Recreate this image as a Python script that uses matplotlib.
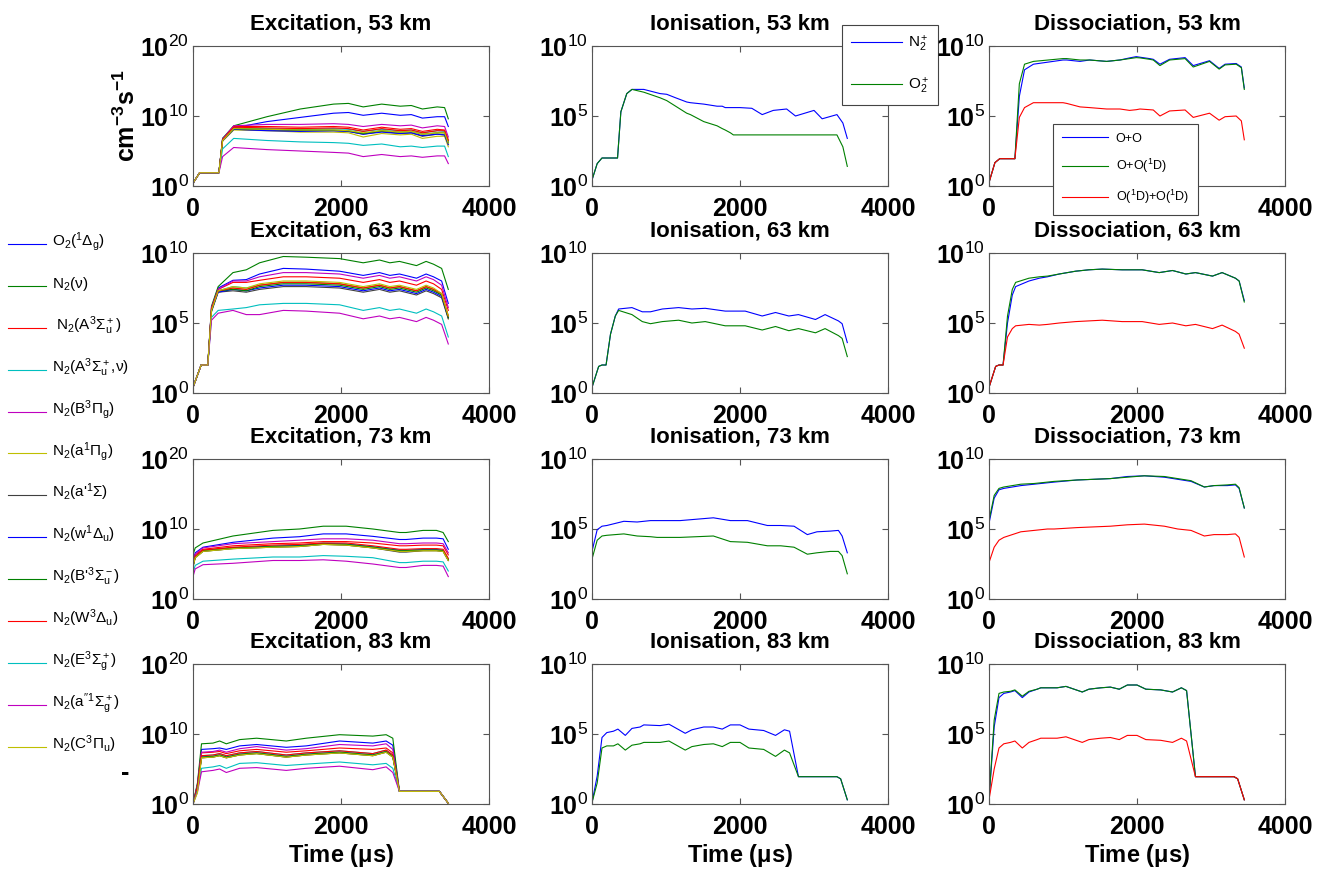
import numpy as np
import matplotlib
matplotlib.use('Agg')
import matplotlib.pyplot as plt
from matplotlib.lines import Line2D
from matplotlib.ticker import NullLocator

plt.rcParams['font.family'] = ['Liberation Sans', 'DejaVu Sans']
plt.rcParams['mathtext.fontset'] = 'custom'
plt.rcParams['mathtext.rm'] = 'Liberation Sans'
plt.rcParams['mathtext.it'] = 'Liberation Sans'
plt.rcParams['mathtext.bf'] = 'Liberation Sans:bold'

# ---- data (log10 of rate, cm^-3 s^-1) ----
species = [r'O$_2$($^1\Delta_g$)', r'N$_2$($\nu$)', r' N$_2$(A$^3\Sigma_u^+$)',
           r'N$_2$(A$^3\Sigma_u^+$,$\nu$)', r'N$_2$(B$^3\Pi_g$)', r'N$_2$(a$^1\Pi_g$)',
           r"N$_2$(a$'^1\Sigma$)", r'N$_2$(w$^1\Delta_u$)', r"N$_2$(B$'^3\Sigma_u^-$)",
           r'N$_2$(W$^3\Delta_u$)', r'N$_2$(E$^3\Sigma_g^+$)', r"N$_2$(a$''^1\Sigma_g^+$)",
           r'N$_2$(C$^3\Pi_u$)']
colors = [(0, 0, 1), (0, 0.5, 0), (1, 0, 0), (0, 0.75, 0.75), (0.75, 0, 0.75),
          (0.75, 0.75, 0), (0.25, 0.25, 0.25), (0, 0, 1), (0, 0.5, 0), (1, 0, 0),
          (0, 0.75, 0.75), (0.75, 0, 0.75), (0.75, 0.75, 0)]
altitudes = [53, 63, 73, 83]

t_exc53 = [0, 90, 350, 400, 550, 1000, 1450, 1900, 2100, 2300, 2550, 2800, 2950, 3100, 3300, 3400, 3450]
exc53 = [
    [0.4, 1.9, 1.9, 6.8, 8.3, 9.2, 9.8, 10.4, 10.5, 10.1, 10.4, 10.1, 10.2, 9.7, 9.9, 9.9, 8.5],
    [0.4, 1.9, 1.9, 6.8, 8.6, 9.9, 11.0, 11.7, 11.8, 11.3, 11.7, 11.4, 11.5, 11.0, 11.3, 11.2, 9.6],
    [0.4, 1.9, 1.9, 6.6, 8.5, 8.5, 8.4, 8.5, 8.4, 8.0, 8.4, 8.1, 8.2, 7.8, 8.1, 8.0, 6.6],
    [0.4, 1.9, 1.9, 6.5, 8.3, 8.2, 8.1, 8.2, 8.1, 7.8, 8.1, 7.9, 8.0, 7.6, 7.9, 7.8, 6.4],
    [0.4, 1.9, 1.9, 6.7, 8.6, 8.8, 8.8, 8.9, 8.8, 8.5, 8.8, 8.6, 8.7, 8.3, 8.6, 8.5, 7.0],
    [0.4, 1.9, 1.9, 6.4, 8.0, 7.9, 7.7, 7.7, 7.6, 7.0, 7.5, 7.3, 7.4, 6.8, 7.1, 7.1, 5.6],
    [0.4, 1.9, 1.9, 6.5, 8.1, 8.0, 7.9, 7.9, 7.8, 7.4, 7.8, 7.5, 7.6, 7.1, 7.4, 7.3, 6.0],
    [0.4, 1.9, 1.9, 6.5, 8.1, 7.9, 7.8, 7.9, 7.8, 7.4, 7.7, 7.5, 7.6, 7.2, 7.4, 7.3, 5.9],
    [0.4, 1.9, 1.9, 6.6, 8.2, 8.1, 8.0, 8.0, 7.9, 7.5, 7.9, 7.7, 7.8, 7.4, 7.6, 7.6, 6.2],
    [0.4, 1.9, 1.9, 6.6, 8.4, 8.3, 8.2, 8.3, 8.2, 7.8, 8.2, 7.9, 8.0, 7.6, 7.9, 7.9, 6.5],
    [0.4, 1.9, 1.9, 5.3, 6.8, 6.5, 6.3, 6.2, 6.1, 5.8, 6.0, 5.6, 5.7, 5.5, 5.7, 5.7, 4.2],
    [0.4, 1.9, 1.9, 4.2, 5.5, 5.2, 5.0, 4.8, 4.7, 4.2, 4.5, 4.2, 4.3, 4.1, 4.3, 4.3, 3.2],
    [0.4, 1.9, 1.9, 6.5, 8.2, 8.1, 8.0, 8.0, 7.9, 7.6, 7.9, 7.7, 7.8, 7.4, 7.6, 7.6, 6.1],
]

t_exc63 = [0, 110, 200, 250, 340, 540, 720, 900, 1220, 1530, 1980, 2300, 2520, 2660, 2790, 3020, 3150, 3250, 3360, 3450]
exc63 = [
    [0.4, 2.0, 2.0, 6.1, 7.5, 8.05, 8.1, 8.5, 8.9, 8.85, 8.7, 8.4, 8.6, 8.4, 8.5, 8.2, 8.5, 8.3, 8.0, 6.4],
    [0.4, 2.0, 2.0, 6.2, 7.6, 8.6, 8.8, 9.3, 9.75, 9.7, 9.6, 9.3, 9.5, 9.3, 9.4, 9.1, 9.4, 9.2, 8.9, 7.4],
    [0.4, 2.0, 2.0, 6.0, 7.4, 7.9, 7.9, 8.05, 8.3, 8.3, 8.2, 7.9, 8.1, 7.9, 8.0, 7.7, 8.0, 7.8, 7.4, 5.9],
    [0.4, 2.0, 2.0, 5.9, 7.3, 7.6, 7.5, 7.7, 7.9, 7.9, 7.8, 7.5, 7.7, 7.5, 7.6, 7.3, 7.6, 7.4, 7.1, 5.5],
    [0.4, 2.0, 2.0, 6.1, 7.4, 8.0, 8.0, 8.3, 8.6, 8.6, 8.5, 8.2, 8.4, 8.2, 8.3, 8.0, 8.3, 8.1, 7.7, 6.1],
    [0.4, 2.0, 2.0, 5.9, 7.3, 7.5, 7.4, 7.7, 7.9, 7.9, 7.8, 7.5, 7.7, 7.5, 7.6, 7.3, 7.6, 7.4, 7.0, 5.3],
    [0.4, 2.0, 2.0, 5.8, 7.2, 7.3, 7.2, 7.4, 7.6, 7.6, 7.5, 7.2, 7.4, 7.2, 7.3, 7.0, 7.3, 7.1, 6.8, 5.3],
    [0.4, 2.0, 2.0, 5.9, 7.2, 7.4, 7.3, 7.5, 7.7, 7.7, 7.6, 7.3, 7.5, 7.3, 7.4, 7.1, 7.4, 7.2, 6.9, 5.4],
    [0.4, 2.0, 2.0, 5.9, 7.3, 7.4, 7.3, 7.6, 7.8, 7.8, 7.7, 7.4, 7.6, 7.4, 7.5, 7.2, 7.5, 7.3, 7.0, 5.4],
    [0.4, 2.0, 2.0, 6.0, 7.3, 7.5, 7.4, 7.7, 7.9, 7.9, 7.8, 7.5, 7.7, 7.5, 7.6, 7.3, 7.6, 7.4, 7.1, 5.5],
    [0.4, 2.0, 2.0, 5.4, 5.9, 6.0, 6.1, 6.3, 6.4, 6.4, 6.3, 5.9, 6.1, 5.9, 6.0, 5.7, 6.0, 5.8, 5.5, 4.0],
    [0.4, 2.0, 2.0, 5.2, 5.7, 5.9, 5.6, 5.6, 5.9, 5.85, 5.7, 5.3, 5.5, 5.3, 5.4, 5.1, 5.4, 5.2, 4.9, 3.5],
    [0.4, 2.0, 2.0, 5.9, 7.3, 7.6, 7.5, 7.8, 8.0, 8.0, 7.9, 7.6, 7.8, 7.6, 7.7, 7.4, 7.7, 7.5, 7.1, 5.5],
]

t_exc73 = [0, 30, 135, 540, 1080, 1440, 1760, 2070, 2430, 2790, 2880, 3110, 3290, 3380, 3450]
exc73 = [
    [5.4, 6.6, 7.4, 8.1, 8.7, 8.9, 9.3, 9.3, 8.95, 8.5, 8.5, 8.7, 8.7, 8.6, 7.1],
    [6.3, 7.3, 8.0, 9.0, 9.8, 10.0, 10.4, 10.4, 10.0, 9.5, 9.5, 9.8, 9.8, 9.5, 8.2],
    [5.0, 6.3, 7.1, 7.6, 7.9, 8.0, 8.2, 8.2, 8.0, 7.6, 7.6, 7.7, 7.7, 7.6, 6.3],
    [4.8, 6.1, 6.9, 7.3, 7.6, 7.7, 8.0, 7.9, 7.5, 7.0, 7.0, 7.1, 7.1, 7.0, 5.7],
    [5.1, 6.4, 7.3, 7.9, 8.2, 8.4, 8.6, 8.6, 8.4, 7.9, 7.9, 8.0, 8.0, 7.9, 6.6],
    [4.6, 5.9, 6.8, 7.2, 7.4, 7.5, 7.8, 7.7, 7.3, 6.8, 6.8, 6.9, 6.9, 6.8, 5.5],
    [4.6, 5.9, 6.8, 7.2, 7.4, 7.5, 7.8, 7.7, 7.3, 6.7, 6.7, 6.9, 6.9, 6.8, 5.5],
    [4.7, 6.0, 6.9, 7.3, 7.5, 7.6, 7.9, 7.8, 7.4, 6.9, 6.9, 7.0, 7.0, 6.9, 5.6],
    [4.7, 6.0, 6.9, 7.3, 7.5, 7.6, 7.9, 7.8, 7.4, 6.9, 6.9, 7.0, 7.0, 6.9, 5.6],
    [4.8, 6.1, 7.0, 7.4, 7.7, 7.8, 8.0, 8.0, 7.6, 7.1, 7.1, 7.2, 7.2, 7.1, 5.8],
    [3.7, 4.8, 5.4, 5.7, 6.0, 6.0, 6.2, 6.1, 5.9, 5.2, 5.2, 5.4, 5.4, 5.3, 4.0],
    [3.2, 4.3, 4.9, 5.1, 5.5, 5.5, 5.6, 5.4, 5.0, 4.5, 4.5, 4.8, 4.8, 4.7, 3.2],
    [4.6, 5.9, 6.8, 7.2, 7.4, 7.5, 7.8, 7.7, 7.3, 6.8, 6.8, 6.9, 6.9, 6.8, 5.5],
]

t_exc83 = [0, 60, 115, 270, 360, 450, 630, 860, 1260, 1530, 1980, 2430, 2610, 2700, 2790, 3330, 3450]
exc83 = [
    [0.0, 2.8, 7.8, 7.9, 8.0, 7.8, 8.3, 8.5, 8.1, 8.3, 9.0, 8.7, 9.0, 8.4, 1.8, 1.8, 0.1],
    [0.0, 3.0, 8.6, 8.7, 9.0, 8.6, 9.2, 9.4, 9.0, 9.4, 9.9, 9.7, 9.9, 9.4, 1.8, 1.8, 0.1],
    [0.0, 2.6, 7.3, 7.4, 7.5, 7.2, 7.6, 7.8, 7.4, 7.6, 8.0, 7.8, 8.0, 7.3, 1.8, 1.8, 0.1],
    [0.0, 2.5, 6.9, 7.0, 7.2, 6.9, 7.3, 7.5, 7.0, 7.3, 7.6, 7.2, 7.7, 7.0, 1.8, 1.8, 0.1],
    [0.0, 2.7, 7.4, 7.5, 7.7, 7.4, 7.9, 8.2, 7.7, 7.9, 8.5, 8.3, 8.6, 7.8, 1.8, 1.8, 0.1],
    [0.0, 2.4, 6.6, 6.7, 6.9, 6.6, 7.0, 7.2, 6.7, 7.0, 7.3, 6.9, 7.4, 6.7, 1.8, 1.8, 0.1],
    [0.0, 2.4, 6.6, 6.7, 6.9, 6.6, 7.0, 7.2, 6.7, 7.0, 7.3, 6.9, 7.4, 6.7, 1.8, 1.8, 0.1],
    [0.0, 2.4, 6.7, 6.8, 7.0, 6.7, 7.1, 7.3, 6.8, 7.1, 7.4, 7.0, 7.5, 6.8, 1.8, 1.8, 0.1],
    [0.0, 2.4, 6.7, 6.8, 7.0, 6.7, 7.1, 7.3, 6.8, 7.1, 7.4, 7.0, 7.5, 6.8, 1.8, 1.8, 0.1],
    [0.0, 2.5, 6.9, 7.0, 7.2, 6.9, 7.3, 7.5, 7.0, 7.3, 7.6, 7.2, 7.7, 7.0, 1.8, 1.8, 0.1],
    [0.0, 1.9, 5.1, 5.3, 5.5, 5.1, 5.8, 5.9, 5.5, 5.7, 6.0, 5.6, 5.8, 5.1, 1.8, 1.8, 0.1],
    [0.0, 1.7, 4.6, 4.8, 5.0, 4.5, 5.1, 5.2, 4.8, 5.1, 5.4, 4.9, 5.3, 4.5, 1.8, 1.8, 0.1],
    [0.0, 1.6, 6.6, 6.7, 6.9, 6.6, 7.0, 7.2, 6.7, 7.0, 7.3, 6.9, 7.4, 6.7, 1.8, 1.8, 0.1],
]

# ionisation: N2+ (blue), O2+ (green)
ion_labels = [r'N$_2^+$', r'O$_2^+$']
t_ion53 = [0, 70, 135, 345, 390, 470, 540, 700, 920, 1010, 1130, 1280, 1330, 1510, 1690, 1760, 1800,
           1870, 1910, 2000, 2160, 2300, 2450, 2630, 2750, 3000, 3110, 3310, 3390, 3450]
ion53_n2 = [0.43, 1.6, 2.0, 2.0, 5.3, 6.6, 6.9, 6.9, 6.6, 6.55, 6.3, 6.0, 5.95, 5.85, 5.7, 5.7, 5.6,
            5.6, 5.6, 5.6, 5.55, 5.1, 5.4, 5.5, 5.0, 5.4, 4.8, 5.1, 4.5, 3.4]
ion53_o2 = [0.43, 1.6, 2.0, 2.0, 5.3, 6.6, 6.9, 6.7, 6.3, 6.1, 5.7, 5.2, 5.1, 4.6, 4.3, 4.1, 4.0,
            3.8, 3.65, 3.65, 3.65, 3.65, 3.65, 3.65, 3.65, 3.65, 3.65, 3.65, 2.8, 1.4]
t_ion63 = [0, 90, 135, 190, 250, 315, 360, 540, 680, 790, 950, 1170, 1350, 1530, 1800, 2070, 2300,
           2480, 2660, 2790, 3020, 3150, 3330, 3380, 3450]
ion63_n2 = [0.4, 1.9, 2.0, 2.0, 4.2, 5.5, 6.0, 6.1, 5.8, 5.8, 6.0, 6.1, 6.0, 6.05, 5.85, 5.85, 5.5,
            5.75, 5.5, 5.6, 5.25, 5.6, 5.15, 4.95, 3.6]
ion63_o2 = [0.4, 1.9, 2.0, 2.0, 4.2, 5.5, 5.9, 5.6, 5.1, 4.95, 5.1, 5.2, 5.0, 5.1, 4.8, 4.8, 4.5,
            4.75, 4.45, 4.6, 4.3, 4.6, 4.1, 3.9, 2.6]
t_ion73 = [0, 70, 135, 200, 430, 610, 790, 880, 1190, 1640, 1870, 2100, 2370, 2550, 2730, 2910,
           3040, 3220, 3330, 3380, 3450]
ion73_n2 = [3.4, 4.95, 5.2, 5.25, 5.55, 5.5, 5.6, 5.6, 5.6, 5.8, 5.6, 5.6, 5.25, 5.25, 5.2, 4.6,
            4.8, 4.85, 4.9, 4.5, 3.3]
ion73_o2 = [2.85, 4.2, 4.5, 4.55, 4.65, 4.5, 4.45, 4.4, 4.4, 4.5, 4.1, 4.05, 3.8, 3.8, 3.7, 3.2,
            3.3, 3.4, 3.4, 3.1, 1.8]
t_ion83 = [0, 70, 135, 200, 290, 350, 450, 540, 650, 700, 920, 1040, 1260, 1350, 1510, 1640, 1760,
           1870, 2000, 2120, 2320, 2480, 2600, 2670, 2790, 3310, 3360, 3450]
ion83_n2 = [0.1, 2.0, 4.75, 5.1, 5.2, 5.35, 4.9, 5.4, 5.5, 5.65, 5.6, 5.7, 5.05, 5.3, 5.5, 5.5,
            5.35, 5.65, 5.65, 5.35, 5.25, 4.9, 5.3, 5.2, 1.95, 1.95, 1.8, 0.3]
ion83_o2 = [0.1, 1.5, 4.0, 4.15, 4.15, 4.3, 3.85, 4.2, 4.3, 4.4, 4.4, 4.5, 3.85, 4.1, 4.25, 4.3,
            4.1, 4.4, 4.4, 4.0, 3.9, 3.4, 3.85, 3.65, 1.95, 1.95, 1.8, 0.3]

# dissociation: O+O (blue), O+O(1D) (green), O(1D)+O(1D) (red)
dis_labels = ['O+O', r'O+O($^1$D)', r'O($^1$D)+O($^1$D)']
t_dis53 = [0, 80, 145, 350, 410, 480, 600, 1000, 1050, 1230, 1360, 1590, 1770, 1900, 1990, 2040,
           2170, 2220, 2310, 2440, 2650, 2760, 2980, 3110, 3190, 3340, 3410, 3450]
dis53_oo = [0.25, 1.67, 1.95, 1.95, 6.4, 8.3, 8.7, 9.0, 9.0, 8.9, 9.0, 8.9, 9.0, 9.15, 9.24, 9.2,
            9.1, 9.05, 8.7, 9.05, 9.17, 8.6, 8.95, 8.4, 8.7, 8.75, 8.5, 7.0]
dis53_oo1d = [0.25, 1.67, 1.95, 1.95, 7.3, 8.7, 8.9, 9.1, 9.1, 9.0, 9.0, 8.9, 9.0, 9.1, 9.17, 9.15,
              9.05, 9.0, 8.6, 9.0, 9.1, 8.5, 8.9, 8.35, 8.65, 8.7, 8.45, 6.9]
dis53_o1do1d = [0.25, 1.67, 1.95, 1.95, 4.9, 5.6, 5.95, 5.95, 5.9, 5.65, 5.6, 5.5, 5.5, 5.4, 5.45,
                5.5, 5.45, 5.43, 5.0, 5.36, 5.43, 4.9, 5.2, 4.7, 4.95, 5.0, 4.65, 3.3]
t_dis63 = t_ion63
dis63_oo = [0.4, 1.9, 2.0, 2.0, 5.0, 7.0, 7.6, 8.0, 8.2, 8.3, 8.5, 8.7, 8.8, 8.85, 8.8, 8.8, 8.6,
            8.75, 8.5, 8.6, 8.35, 8.6, 8.2, 8.0, 6.6]
dis63_oo1d = [0.4, 1.9, 2.0, 2.0, 5.5, 7.4, 7.9, 8.2, 8.3, 8.35, 8.5, 8.7, 8.8, 8.85, 8.8, 8.8, 8.6,
              8.75, 8.5, 8.6, 8.35, 8.6, 8.2, 8.0, 6.5]
dis63_o1do1d = [0.4, 1.9, 2.0, 2.0, 4.0, 4.6, 4.8, 4.9, 4.85, 4.9, 5.0, 5.1, 5.15, 5.2, 5.1, 5.1,
                4.9, 5.0, 4.8, 4.9, 4.6, 4.85, 4.4, 4.2, 3.2]
t_dis73 = t_ion73
dis73_oo = [5.4, 7.2, 7.8, 7.9, 8.1, 8.2, 8.3, 8.35, 8.5, 8.6, 8.75, 8.8, 8.7, 8.55, 8.4, 8.0, 8.1,
            8.1, 8.15, 7.9, 6.5]
dis73_oo1d = [5.6, 7.4, 7.9, 8.0, 8.2, 8.25, 8.35, 8.4, 8.5, 8.6, 8.7, 8.8, 8.75, 8.6, 8.45, 8.0,
              8.1, 8.15, 8.2, 7.95, 6.5]
dis73_o1do1d = [2.6, 3.7, 4.2, 4.4, 4.8, 4.9, 5.0, 5.0, 5.1, 5.2, 5.3, 5.35, 5.2, 5.0, 4.9, 4.5,
                4.6, 4.6, 4.65, 4.4, 3.0]
t_dis83 = t_ion83
dis83_oo = [0.3, 5.5, 7.6, 7.9, 8.0, 8.1, 7.6, 8.0, 8.2, 8.3, 8.3, 8.4, 8.0, 8.2, 8.3, 8.35, 8.2,
            8.5, 8.5, 8.2, 8.15, 8.0, 8.3, 8.1, 1.95, 1.95, 1.8, 0.3]
dis83_oo1d = [0.3, 6.0, 7.9, 8.0, 8.05, 8.15, 7.7, 8.05, 8.2, 8.3, 8.3, 8.4, 8.0, 8.2, 8.3, 8.35,
              8.2, 8.5, 8.5, 8.2, 8.15, 8.0, 8.3, 8.1, 1.95, 1.95, 1.8, 0.3]
dis83_o1do1d = [0.3, 2.5, 4.0, 4.3, 4.4, 4.5, 4.0, 4.4, 4.6, 4.7, 4.7, 4.8, 4.4, 4.6, 4.7, 4.75,
                4.6, 4.9, 4.9, 4.6, 4.55, 4.4, 4.7, 4.5, 1.95, 1.95, 1.8, 0.3]

exc_t = [t_exc53, t_exc63, t_exc73, t_exc83]
exc_v = [exc53, exc63, exc73, exc83]
exc_top = [20, 10, 20, 20]
ion_t = [t_ion53, t_ion63, t_ion73, t_ion83]
ion_v = [[ion53_n2, ion53_o2], [ion63_n2, ion63_o2], [ion73_n2, ion73_o2], [ion83_n2, ion83_o2]]
dis_t = [t_dis53, t_dis63, t_dis73, t_dis83]
dis_v = [[dis53_oo, dis53_oo1d, dis53_o1do1d], [dis63_oo, dis63_oo1d, dis63_o1do1d],
         [dis73_oo, dis73_oo1d, dis73_o1do1d], [dis83_oo, dis83_oo1d, dis83_o1do1d]]

W, H = 1327, 872
fig = plt.figure(figsize=(W / 100, H / 100), dpi=100)
lefts = [193, 592, 989]
tops = [46, 253, 459, 664]
aw, ah = 296, 140
edge = '#555555'


def setup(ax, top_dec, title, row):
    ax.set_yscale('log')
    ax.set_xlim(0, 4000)
    ax.set_ylim(1, 10.0 ** top_dec)
    ax.set_xticks([0, 2000, 4000])
    ax.set_xticklabels(['0', '2000', '4000'], fontsize=18, fontweight='bold')
    step = top_dec // 2
    yt = [0, step, top_dec]
    ax.set_yticks([10.0 ** k for k in yt])
    ax.set_yticklabels([r'$\mathbf{10}^{%d}$' % k for k in yt], fontsize=18)
    ax.yaxis.set_minor_locator(NullLocator())
    ax.tick_params(direction='in', top=True, right=True, length=4, width=0.8,
                   color=edge)
    ax.tick_params(axis='x', pad=8)
    ax.tick_params(axis='y', pad=3)
    for s in ax.spines.values():
        s.set_color(edge)
        s.set_linewidth(0.8)
    ax.set_title(title, fontsize=16, fontweight='bold', pad=12)
    if row == 3:
        ax.set_xlabel(r'Time ($\mathbf{\mu}$s)', fontsize=17, fontweight='bold', labelpad=2)


for r in range(4):
    y0 = (H - tops[r] - ah) / H
    axs = [fig.add_axes([lefts[c] / W, y0, aw / W, ah / H]) for c in range(3)]

    ax = axs[0]
    t = np.array(exc_t[r])
    for vals, col in zip(exc_v[r], colors):
        ax.plot(t, 10.0 ** np.array(vals), color=col, lw=0.8)
    setup(ax, exc_top[r], 'Excitation, %d km' % altitudes[r], r)
    if r == 0:
        ax.set_ylabel(r'$\mathbf{cm^{-3}s^{-1}}$', fontsize=18, labelpad=0)

    ax = axs[1]
    t = np.array(ion_t[r])
    for vals, col, lab in zip(ion_v[r], [(0, 0, 1), (0, 0.5, 0)], ion_labels):
        ax.plot(t, 10.0 ** np.array(vals), color=col, lw=0.8, label=lab)
    setup(ax, 10, 'Ionisation, %d km' % altitudes[r], r)
    if r == 0:
        leg = ax.legend(loc='upper left', bbox_to_anchor=(842 / W, 1 - 25 / H),
                        bbox_transform=fig.transFigure, fontsize=11, handlelength=3.3,
                        handletextpad=0.4, labelspacing=1.4, borderpad=0.6,
                        fancybox=False, edgecolor='#444444', framealpha=1, borderaxespad=0)
        leg.get_frame().set_linewidth(0.8)

    ax = axs[2]
    t = np.array(dis_t[r])
    for vals, col, lab in zip(dis_v[r], [(0, 0, 1), (0, 0.5, 0), (1, 0, 0)], dis_labels):
        ax.plot(t, 10.0 ** np.array(vals), color=col, lw=0.8, label=lab)
    setup(ax, 10, 'Dissociation, %d km' % altitudes[r], r)
    if r == 0:
        leg = ax.legend(loc='upper left', bbox_to_anchor=(1053 / W, 1 - 124 / H),
                        bbox_transform=fig.transFigure, fontsize=9, handlelength=3.7,
                        handletextpad=0.6, labelspacing=1.0, borderpad=0.7,
                        fancybox=False, edgecolor='#444444', framealpha=1, borderaxespad=0)
        leg.get_frame().set_linewidth(0.8)

# species legend on the left
for i, (lab, col) in enumerate(zip(species, colors)):
    yp = 244 + 41.9 * i
    fig.add_artist(Line2D([8 / W, 46 / W], [1 - yp / H, 1 - yp / H], color=col, lw=0.8))
    fig.text(52 / W, 1 - (yp + 2) / H, lab, fontsize=11, va='baseline')

# small clipped mark left of the last excitation panel
fig.text(125 / W, 1 - 773 / H, '-', fontsize=18, fontweight='bold', ha='center', va='center')

fig.savefig('out.png', dpi=100)
